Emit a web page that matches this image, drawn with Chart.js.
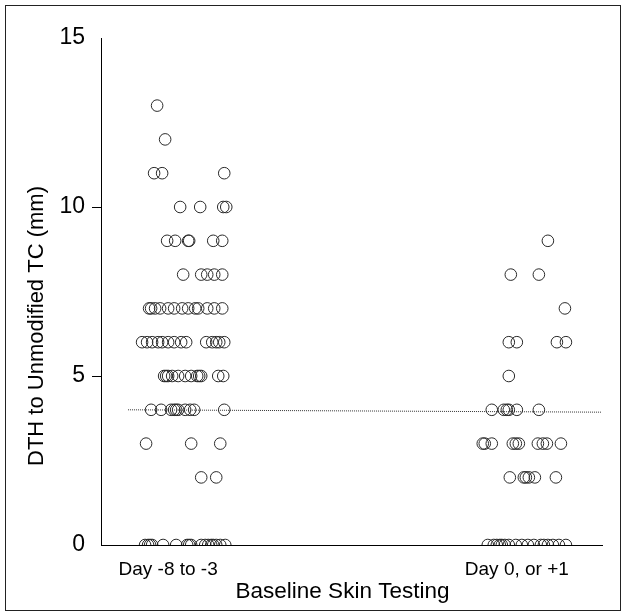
<!DOCTYPE html>
<html><head><meta charset="utf-8">
<script src="https://cdn.jsdelivr.net/npm/chart.js@4"></script>
<style>html,body{margin:0;padding:0;background:#fff;}#wrap{width:625px;height:616px;position:relative;}</style>
</head><body><div id="wrap"><canvas id="c" width="625" height="616"></canvas></div>
<script>
// ---- data ----
const categories = ["Day -8 to -3", "Day 0, or +1"];
const categoryX = [6.7, 41.5];
const yTicks = [0, 5, 10, 15];
const group1Levels = [13, 12, 11, 10, 9, 8, 7, 6, 5, 4, 3, 2, 0];
const group1Jitter = [
  [5.6],
  [6.4],
  [5.3, 6.1, 12.3],
  [7.9, 9.9, 12.2, 12.5],
  [6.6, 7.4, 8.7, 8.8, 11.2, 12.1],
  [8.2, 10.0, 10.6, 11.3, 12.1],
  [4.8, 5.0, 5.4, 5.9, 6.7, 7.3, 8.1, 8.7, 9.4, 9.7, 10.6, 11.3, 12.1],
  [4.1, 4.6, 5.1, 5.7, 6.1, 6.7, 7.3, 8.0, 8.5, 10.5, 11.1, 11.5, 11.8, 12.3],
  [6.3, 6.5, 6.7, 7.1, 7.7, 8.4, 9.0, 9.6, 9.8, 10.0, 11.7, 12.2],
  [5.0, 6.0, 7.0, 7.3, 7.5, 7.7, 8.4, 8.9, 9.3, 12.3],
  [4.5, 9.0, 11.9],
  [10.0, 11.5],
  [4.4, 4.7, 4.9, 5.1, 6.2, 7.5, 8.6, 8.8, 9.0, 10.0, 10.4, 10.7, 11.0, 11.2, 11.5, 11.9, 12.4]
];
const group2Levels = [9, 8, 7, 6, 5, 4, 3, 2, 0];
const group2Jitter = [
  [44.6],
  [40.9, 43.7],
  [46.3],
  [40.7, 41.5, 45.5, 46.4],
  [40.7],
  [39.0, 40.2, 40.5, 40.7, 41.5, 43.7],
  [38.1, 38.3, 39.0, 41.1, 41.4, 41.7, 43.6, 44.1, 44.5, 45.9],
  [40.8, 42.2, 42.4, 42.7, 43.3, 45.4],
  [38.6, 39.2, 39.5, 39.8, 40.0, 40.3, 40.7, 41.4, 42.0, 42.6, 43.2, 43.9, 44.2, 44.6, 45.1, 45.7, 46.4]
];
const thresholdX = [2.7, 49.9];
const thresholdY = [4.0, 3.93];
const xTitle = "Baseline Skin Testing";
const yTitle = "DTH to Unmodified TC (mm)";

// ---- build ----
function toPoints(levels, jitter) {
  const pts = [];
  levels.forEach((lv, i) => jitter[i].forEach(x => pts.push({x: x, y: lv})));
  return pts;
}
const FONT = '"Liberation Sans", Arial, Helvetica, sans-serif';

const decor = {
  id: 'decor',
  afterDraw(chart) {
    const ctx = chart.ctx;
    ctx.save();
    ctx.strokeStyle = '#222';
    ctx.lineWidth = 1;
    ctx.strokeRect(5.5, 5.5, 615, 605);
    ctx.fillStyle = '#000';
    ctx.font = '22.5px ' + FONT;
    ctx.textAlign = 'center';
    ctx.textBaseline = 'middle';
    ctx.fillText(xTitle, 342.5, 592);
    ctx.font = '22px ' + FONT;
    ctx.translate(36.5, 326);
    ctx.rotate(-Math.PI / 2);
    ctx.fillText(yTitle, 0, 0);
    ctx.restore();
  }
};

const circleStyle = {
  pointStyle: 'circle', pointRadius: 5.8, pointHoverRadius: 5.8,
  pointBorderWidth: 1, borderColor: '#2a2a2a', pointBorderColor: '#2a2a2a',
  backgroundColor: 'rgba(0,0,0,0)', pointBackgroundColor: 'rgba(0,0,0,0)', showLine: false
};

new Chart(document.getElementById('c'), {
  type: 'scatter',
  data: {
    datasets: [
      Object.assign({label: categories[0], data: toPoints(group1Levels, group1Jitter)}, circleStyle),
      Object.assign({label: categories[1], data: toPoints(group2Levels, group2Jitter)}, circleStyle),
      {type: 'line', label: 'threshold',
       data: thresholdX.map((x, i) => ({x: x, y: thresholdY[i]})),
       borderColor: '#333', borderWidth: 1, borderDash: [1, 1], pointRadius: 0, fill: false}
    ]
  },
  options: {
    responsive: false, animation: false, devicePixelRatio: 1,
    layout: {padding: {top: 38, right: 23, bottom: 0, left: 0}},
    plugins: {legend: {display: false}, tooltip: {enabled: false}},
    scales: {
      x: {
        type: 'linear', min: 0, max: 50,
        afterFit(s) { s.height = 71; },
        afterBuildTicks(s) { s.ticks = categoryX.map(v => ({value: v})); },
        grid: {display: false},
        border: {display: true, color: '#000', width: 1},
        ticks: {autoSkip: false, maxRotation: 0, padding: 5, color: '#000',
                font: {family: FONT, size: 19},
                callback: (v, i) => categories[i]}
      },
      y: {
        type: 'linear', min: 0, max: 15,
        afterFit(s) { s.width = 101; },
        afterBuildTicks(s) { s.ticks = yTicks.map(v => ({value: v})); },
        grid: {display: true, drawOnChartArea: false, drawTicks: true, tickLength: 9,
               color: c => (c.tick && (c.tick.value === 5 || c.tick.value === 10)) ? '#000' : 'rgba(0,0,0,0)'},
        border: {display: true, color: '#000', width: 1},
        ticks: {padding: 7, color: '#000', font: {family: FONT, size: 23}}
      }
    }
  },
  plugins: [decor]
});
</script></body></html>
